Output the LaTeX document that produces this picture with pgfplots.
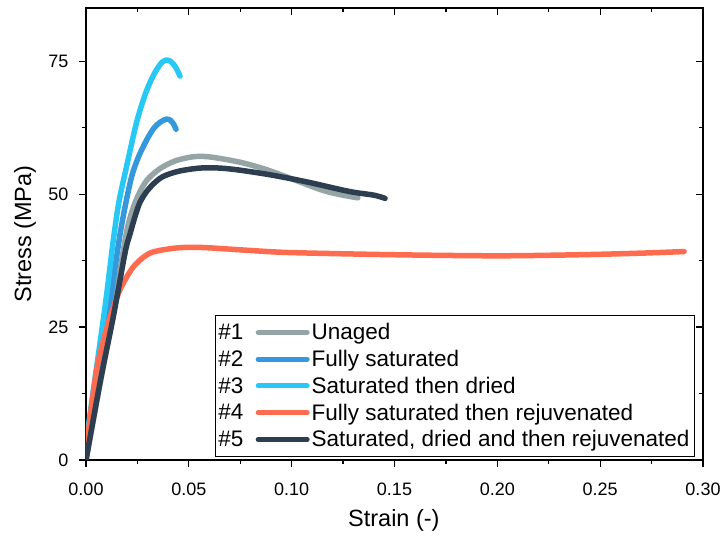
\documentclass[border=0pt]{standalone}
\usepackage{fontspec}
\setmainfont{Liberation Sans}
\usepackage{pgfplots}
\pgfplotsset{compat=1.18}
\definecolor{cUn}{HTML}{95A5A6}
\definecolor{cFs}{HTML}{3498DB}
\definecolor{cSd}{HTML}{28C8F6}
\definecolor{cRj}{HTML}{FF6B4E}
\definecolor{cSr}{HTML}{2C3E50}
\begin{document}
\begin{tikzpicture}
\useasboundingbox (-86pt,-77pt) rectangle (636pt,460pt);
\pgfplotsset{
  common/.style={
    scale only axis, width=617pt, height=452pt,
    xmin=0, xmax=0.30, ymin=0, ymax=85,
    xtick={0,0.05,...,0.30}, ytick={0,25,50,75},
    minor x tick num=1, minor y tick num=1,
    major tick length=7pt, minor tick length=4pt,
    every tick/.style={black, line width=1.2pt},
    anchor=south west, at={(0,0)},
  },
  limg/.style 2 args={legend image code/.code={\node[anchor=east, inner sep=0pt, text=black] at (-12pt,0pt) {\##1}; \draw[#2, line width=5pt, line cap=round] (0pt,0pt) -- (49pt,0pt);}},
}
\begin{axis}[common,
  axis line style={line width=1.3pt},
  tick align=outside, xtick pos=bottom, ytick pos=left,
  /pgf/number format/assume math mode=true,
  ticklabel style={font=\fontsize{18}{21}\selectfont},
  xticklabel style={yshift=-12pt, /pgf/number format/.cd, fixed, fixed zerofill, precision=2},
  yticklabel style={xshift=-7pt, /pgf/number format/.cd, fixed},
  xlabel={Strain (-)}, ylabel={Stress (MPa)},
  label style={font=\fontsize{23.5}{27}\selectfont},
  xlabel style={at={(axis description cs:0.499,-0.1327)}, anchor=center},
  ylabel style={at={(axis description cs:-0.0989,0.5)}, anchor=center, rotate=0},
  legend style={at={(axis description cs:0.209,0.3208)}, anchor=north west,
    draw=black, line width=0.9pt, font=\fontsize{22.5}{27}\selectfont,
    inner xsep=3pt, inner ysep=6pt, row sep=5pt,
    /tikz/every even column/.append style={column sep=6pt}},
  legend cell align=left,
  every axis plot/.append style={line width=5.5pt, line cap=round, line join=round, smooth, tension=0.5},
]
\addplot[cUn, limg={1}{cUn}] table {
0 0
0.005 10.5
0.010 21
0.015 32
0.0198 43
0.0230 47.5
0.0263 50.5
0.030 52.8
0.036 54.8
0.043 56.2
0.050 56.9
0.0554 57.1
0.062 56.9
0.0749 56.0
0.087 54.7
0.0992 53.0
0.1152 50.7
0.125 49.8
0.1322 49.3
};
\addlegendentry{Unaged}
\addplot[cFs, limg={2}{cFs}] table {
0 0
0.005 12.5
0.010 25
0.0165 42.3
0.0215 52.2
0.025 56.5
0.0295 60.2
0.033 62.4
0.036 63.5
0.039 64.1
0.041 63.9
0.0425 63.2
0.0438 62.2
};
\addlegendentry{Fully saturated}
\addplot[cSd, limg={3}{cSd}] table {
0 3
0.0030 11.5
0.0070 22.5
0.0100 31
0.0133 41.4
0.0160 48.5
0.0199 55.5
0.0246 63.5
0.0290 69
0.0330 72.5
0.0365 74.6
0.0389 75.2
0.0410 75
0.0430 74.2
0.0445 73.2
0.0457 72.2
};
\addlegendentry{Saturated then dried}
\addplot[cRj, limg={4}{cRj}] table {
0 1
0.002 8
0.0052 17
0.0085 22.5
0.0117 26.8
0.0165 32
0.023 36.3
0.0311 38.9
0.0423 39.8
0.0506 40
0.06 39.9
0.08 39.4
0.10 39
0.15 38.6
0.20 38.4
0.24 38.6
0.27 38.9
0.2908 39.2
};
\addlegendentry{Fully saturated then rejuvenated}
\addplot[cSr, limg={5}{cSr}] table {
0 0
0.0068 14.5
0.0133 27
0.019 39
0.0214 42.5
0.0240 46
0.0263 48.5
0.0295 50.5
0.0330 52
0.0374 53.3
0.045 54.3
0.0554 54.9
0.065 54.9
0.0749 54.5
0.090 53.6
0.1073 52.3
0.128 50.5
0.140 49.8
0.1454 49.2
};
\addlegendentry{Saturated, dried and then rejuvenated}
\end{axis}
\begin{axis}[common,
  axis line style={draw=none},
  tick align=inside, xtick pos=top, ytick pos=right,
  xticklabels={}, yticklabels={},
]
\addplot[draw=none] coordinates {(0,0)};
\end{axis}
\end{tikzpicture}
\end{document}
